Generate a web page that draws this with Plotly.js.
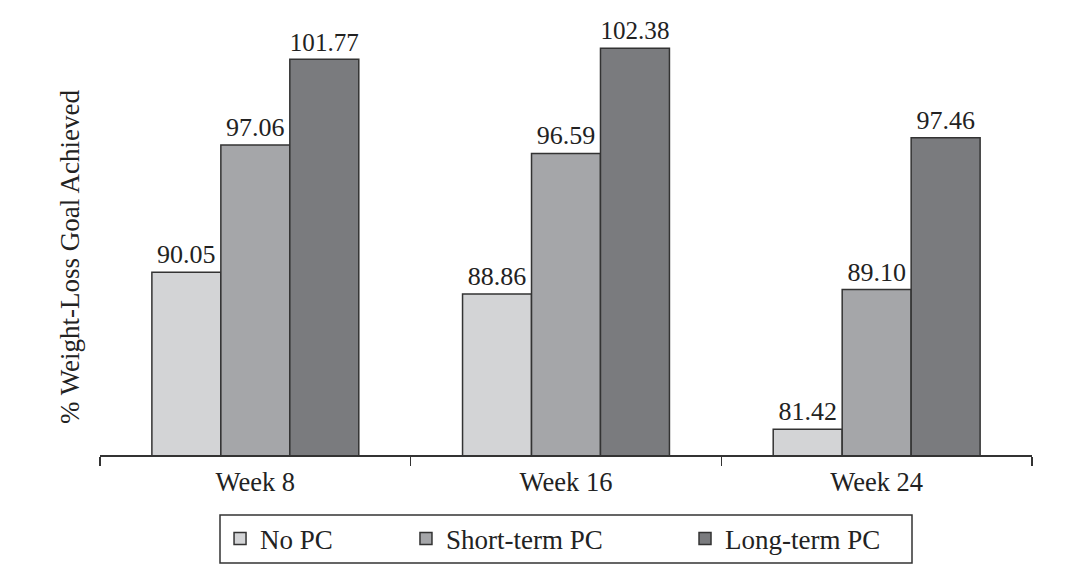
<!DOCTYPE html>
<html>
<head>
<meta charset="utf-8">
<script src="https://cdn.plot.ly/plotly-3.0.1.min.js"></script>
<style>html,body{margin:0;padding:0;background:#fff;}</style>
</head>
<body>
<div id="chart" style="width:1080px;height:588px;"></div>
<script>
const categories = ["Week 8", "Week 16", "Week 24"];
const seriesNames = ["No PC", "Short-term PC", "Long-term PC"];
const noPC = [90.05, 88.86, 81.42];
const shortTermPC = [97.06, 96.59, 89.10];
const longTermPC = [101.77, 102.38, 97.46];
const seriesValues = [noPC, shortTermPC, longTermPC];
const colors = ["#d3d4d6", "#a5a6a9", "#7a7b7e"];
const legendIds = ["legend", "legend2", "legend3"];
const legendX = [0.1288, 0.3283, 0.6277];

const font = "Liberation Serif, Times New Roman, serif";
const traces = seriesValues.map((vals, i) => ({
  type: "bar",
  name: seriesNames[i],
  x: categories,
  y: vals,
  text: vals.map(v => v.toFixed(2)),
  textposition: "outside",
  cliponaxis: false,
  textfont: {family: font, size: 26, color: "#222"},
  marker: {color: colors[i], line: {color: "#333", width: 1.5}},
  legend: legendIds[i],
  hoverinfo: "skip"
}));

const layout = {
  width: 1080, height: 588,
  margin: {l: 100, r: 48, t: 37, b: 133},
  paper_bgcolor: "#fff", plot_bgcolor: "#fff",
  barmode: "group",
  bargap: 0.334,
  bargroupgap: 0,
  font: {family: font, size: 26, color: "#222"},
  showlegend: true,
  xaxis: {
    type: "category",
    range: [-0.5, 2.5],
    showline: true, linecolor: "#333", linewidth: 1.5,
    ticks: "outside", tickson: "boundaries", ticklen: 9, tickwidth: 1.5, tickcolor: "#333",
    ticklabelstandoff: 3,
    tickfont: {family: font, size: 26.5, color: "#222"},
    showgrid: false, zeroline: false
  },
  yaxis: {
    range: [80, 103],
    showticklabels: false, showgrid: false, zeroline: false, showline: false, ticks: ""
  },
  annotations: [{
    xref: "paper", yref: "paper",
    x: (70 - 100) / 932, y: (455 - 257) / 418,
    xanchor: "center", yanchor: "middle",
    textangle: -90, showarrow: false,
    text: "% Weight-Loss Goal Achieved",
    font: {family: font, size: 27, color: "#222"}
  }],
  shapes: [{
    type: "rect", xref: "paper", yref: "paper",
    x0: (220 - 100) / 932, x1: (912 - 100) / 932,
    y0: (455 - 515) / 418, y1: (455 - 563) / 418,
    line: {color: "#333", width: 1.5}, fillcolor: "rgba(0,0,0,0)"
  }]
};
legendIds.forEach((id, i) => {
  layout[id] = {
    orientation: "h",
    x: legendX[i], xanchor: "left",
    y: (455 - 539) / 418, yanchor: "middle",
    borderwidth: 0, bgcolor: "rgba(0,0,0,0)",
    font: {family: font, size: 27, color: "#222"}
  };
});

Plotly.newPlot("chart", traces, layout, {displayModeBar: false, staticPlot: true});
</script>
</body>
</html>
